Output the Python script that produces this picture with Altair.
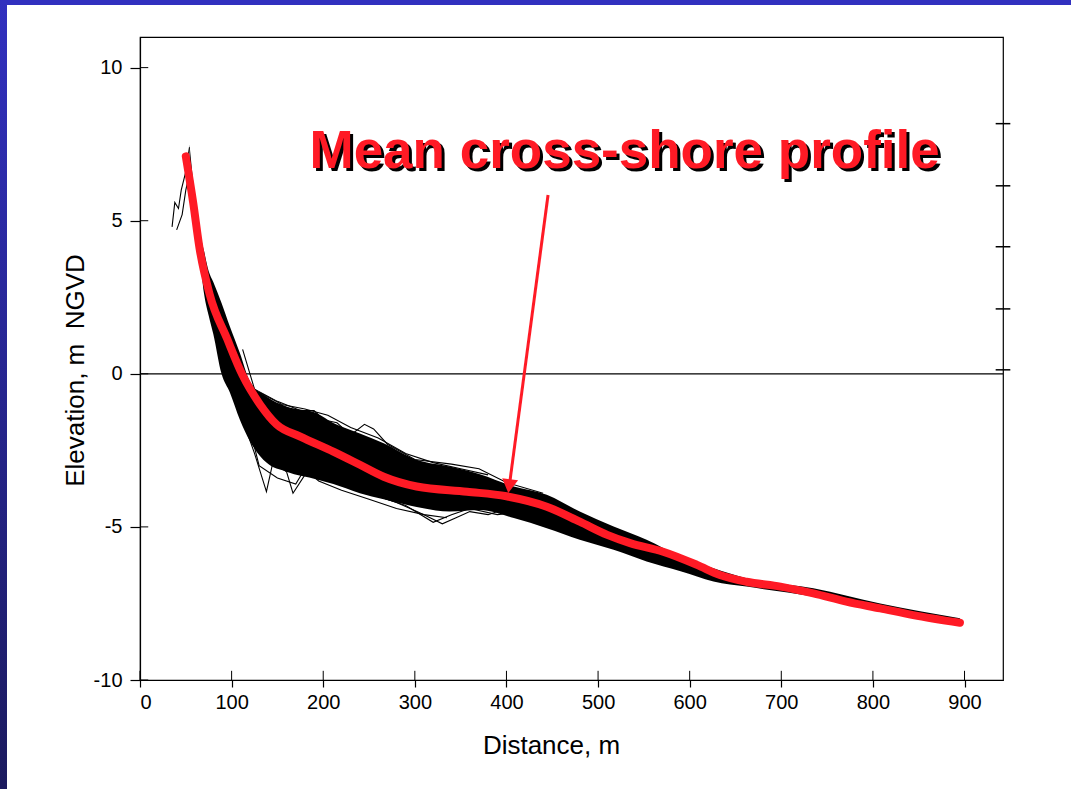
import altair as alt
import pandas as pd

# ---------------- data ----------------
# mean cross-shore profile (red)
mean_x = [50, 58, 65, 76, 95, 112, 131, 149, 175, 211, 240, 266, 302, 357, 400,
          444, 480, 510, 535, 571, 608, 633, 662, 699, 735, 771, 808, 844, 895]
mean_y = [7.1, 5.6, 4.1, 2.6, 1.15, -0.05, -1.0, -1.65, -2.05, -2.54, -2.97, -3.36,
          -3.68, -3.85, -4.0, -4.34, -4.83, -5.26, -5.53, -5.81, -6.24, -6.57, -6.79,
          -6.95, -7.17, -7.44, -7.66, -7.88, -8.13]

# dense envelope of the surveyed profiles (black band)
env_x = [54, 60, 65, 70, 75, 80, 89, 98, 109, 120, 138, 160, 193, 211, 240, 266, 302,
         338, 371, 408, 444, 480, 517, 553, 590, 626, 662, 735, 808, 895]
env_hi = [7.5, 5.8, 4.7, 4.0, 3.35, 3.0, 2.31, 1.55, 0.68, -0.25, -0.74, -1.07, -1.29,
          -1.61, -1.95, -2.27, -2.81, -3.03, -3.28, -3.68, -3.95, -4.5, -4.99, -5.42,
          -5.97, -6.35, -6.68, -7.0, -7.5, -7.98]
env_lo = [6.3, 4.9, 3.9, 2.6, 1.9, 1.3, 0.0, -0.6, -1.5, -2.2, -2.9, -3.2, -3.45, -3.6,
          -3.9, -4.1, -4.35, -4.5, -4.45, -4.71, -5.04, -5.42, -5.75, -6.13, -6.45,
          -6.78, -6.95, -7.27, -7.71, -8.2]

# individual stray profiles at the edges of the band
p1_x = [100, 112, 125, 138, 145, 160, 167, 180, 200, 230, 260, 290, 320, 340, 360, 390, 420]
p1_y = [0.5, -1.5, -2.6, -3.85, -2.9, -3.2, -3.9, -3.3, -3.4, -3.7, -4.0, -4.3, -4.85,
        -4.6, -4.4, -4.6, -4.5]
p2_x = [112, 125, 150, 175, 190, 200, 215, 230, 245, 255, 270, 300, 340, 370, 400, 440]
p2_y = [0.8, -0.5, -0.9, -1.2, -1.2, -1.5, -1.6, -2.0, -1.65, -1.8, -2.3, -2.8, -2.95,
        -3.1, -3.55, -3.9]
p3_x = [35, 38, 42, 45, 50, 54]
p3_y = [4.8, 5.6, 5.4, 6.0, 6.6, 7.4]
p4_x = [40, 46, 50, 55]
p4_y = [4.7, 5.2, 6.0, 6.7]
p5_x = [250, 280, 310, 330, 345, 360, 380, 400]
p5_y = [-3.9, -4.2, -4.6, -4.9, -4.7, -4.5, -4.6, -4.4]
p6_x = [120, 130, 150, 170, 180, 195, 220, 250, 280, 310, 335]
p6_y = [-1.8, -3.0, -3.4, -3.6, -3.1, -3.5, -3.8, -4.1, -4.4, -4.6, -4.7]
p7_x = [130, 155, 180, 205, 230, 260, 290, 320, 350, 380]
p7_y = [-0.6, -1.0, -1.15, -1.35, -1.75, -2.1, -2.6, -2.9, -3.1, -3.3]

x_ticks = [0, 100, 200, 300, 400, 500, 600, 700, 800, 900]
y_ticks = [-10, -5, 0, 5, 10]
right_ticks = [0.13, 2.12, 4.15, 6.14, 8.17]

label_text = ["Mean cross-shore profile"]
label_x = [529]
label_y = [6.73]
arrow_x = [445.4, 403.3]
arrow_y = [5.84, -3.62]
arrow_head_x = [403.0]
arrow_head_y = [-3.67]

X_MAX = 942
Y_MIN, Y_MAX = -10, 11.0
FONT = "Liberation Sans, Arial, sans-serif"
RED = "#ff1a25"

# ---------------- tables ----------------
mean_df = pd.DataFrame({"x": mean_x, "y": mean_y})
env_df = pd.DataFrame({"x": env_x, "hi": env_hi, "lo": env_lo})
rows = []
for pid, (px, py) in enumerate([(p1_x, p1_y), (p2_x, p2_y), (p3_x, p3_y), (p4_x, p4_y),
                                (p5_x, p5_y), (p6_x, p6_y), (p7_x, p7_y)]):
    for a, b in zip(px, py):
        rows.append({"id": pid, "x": a, "y": b})
prof_df = pd.DataFrame(rows)
xt_df = pd.DataFrame({"x": x_ticks})
yt_df = pd.DataFrame({"y": y_ticks})
rt_df = pd.DataFrame({"y": right_ticks})
lab_df = pd.DataFrame({"t": label_text, "x": label_x, "y": label_y})
arr_df = pd.DataFrame({"x": arrow_x, "y": arrow_y})
head_df = pd.DataFrame({"x": arrow_head_x, "y": arrow_head_y})
one = pd.DataFrame({"k": [0]})

xs = alt.Scale(domain=[0, X_MAX], nice=False, zero=False)
ys = alt.Scale(domain=[Y_MIN, Y_MAX], nice=False, zero=False)

X = alt.X("x:Q", scale=xs, axis=alt.Axis(
    values=x_ticks, title="Distance, m", grid=False, tickSize=7, labelPadding=5,
    labelExpr="'' + datum.value",
    titleX=411, titleY=73, titleBaseline="alphabetic", titleAlign="center"))
Y = alt.Y("y:Q", scale=ys, axis=alt.Axis(
    values=y_ticks, title="Elevation, m\u00a0 NGVD", grid=False, tickSize=10, labelPadding=8,
    labelExpr="'' + datum.value",
    titleX=-57, titleY=333, titleBaseline="alphabetic", titleAlign="center", titleAngle=-90))

# blue slide frame (decoration)
top_band = alt.Chart(one).mark_rect(color="#3130bf", clip=False).encode(
    x=alt.value(-140), x2=alt.value(931), y=alt.value(-37), y2=alt.value(-32))
left_band = alt.Chart(one).mark_rect(
    clip=False,
    color=alt.Gradient(gradient="linear",
                       stops=[alt.GradientStop(color="#3130bf", offset=0),
                              alt.GradientStop(color="#1b1a5e", offset=1)],
                       x1=0, x2=0, y1=0, y2=1)).encode(
    x=alt.value(-140), x2=alt.value(-133), y=alt.value(-37), y2=alt.value(752))

zero_line = alt.Chart(pd.DataFrame({"y": [0]})).mark_rule(color="black", strokeWidth=1.2).encode(
    y=alt.Y("y:Q", scale=ys))

band = alt.Chart(env_df).mark_area(color="black", interpolate="monotone").encode(
    x=alt.X("x:Q", scale=xs), y=alt.Y("hi:Q", scale=ys), y2="lo:Q")

profiles = alt.Chart(prof_df).mark_line(color="black", strokeWidth=1.1).encode(
    x=alt.X("x:Q", scale=xs), y=alt.Y("y:Q", scale=ys), detail="id:N")

mean_line = alt.Chart(mean_df).mark_line(
    color=RED, strokeWidth=8, interpolate="monotone", strokeCap="round").encode(x=X, y=Y)

x_in = alt.Chart(xt_df).transform_calculate(y0="-10", y1="-9.7").mark_rule(
    color="black", strokeWidth=1).encode(x=alt.X("x:Q", scale=xs), y=alt.Y("y0:Q", scale=ys), y2="y1:Q")
y_in = alt.Chart(yt_df).transform_calculate(x0="0", x1="9").mark_rule(
    color="black", strokeWidth=1).encode(y=alt.Y("y:Q", scale=ys), x=alt.X("x0:Q", scale=xs), x2="x1:Q")
r_ticks = alt.Chart(rt_df).transform_calculate(x0=str(X_MAX - 8), x1=str(X_MAX + 8)).mark_rule(
    color="black", strokeWidth=1.5, clip=False).encode(
    y=alt.Y("y:Q", scale=ys), x=alt.X("x0:Q", scale=xs), x2="x1:Q")

arrow = alt.Chart(arr_df).mark_line(color=RED, strokeWidth=3).encode(
    x=alt.X("x:Q", scale=xs), y=alt.Y("y:Q", scale=ys))
head = alt.Chart(head_df).mark_point(
    shape="triangle-down", filled=True, color=RED, size=256, angle=7.6, opacity=1).encode(
    x=alt.X("x:Q", scale=xs), y=alt.Y("y:Q", scale=ys))

shadow = alt.Chart(lab_df).mark_text(
    font=FONT, fontSize=53, fontWeight="bold", color="black", dx=3, dy=3,
    align="center", baseline="alphabetic").encode(
    x=alt.X("x:Q", scale=xs), y=alt.Y("y:Q", scale=ys), text="t:N")
label = alt.Chart(lab_df).mark_text(
    font=FONT, fontSize=53, fontWeight="bold", color=RED,
    align="center", baseline="alphabetic").encode(
    x=alt.X("x:Q", scale=xs), y=alt.Y("y:Q", scale=ys), text="t:N")

chart = alt.layer(
    top_band, left_band, zero_line, band, profiles, mean_line,
    x_in, y_in, r_ticks, arrow, head, shadow, label
).properties(
    width=863, height=643,
    autosize=alt.AutoSizeParams(type="none"),
    padding={"left": 140, "top": 37, "right": 68, "bottom": 109},
    background="white",
).configure_view(
    stroke="black", strokeWidth=1.2
).configure_axis(
    domainColor="black", domainWidth=1.2, tickColor="black", tickWidth=1.2,
    labelColor="black", labelFont=FONT, labelFontSize=20,
    titleColor="black", titleFont=FONT, titleFontSize=26, titleFontWeight="normal",
)

chart.save("out.html", embed_options={"renderer": "svg", "actions": False})
